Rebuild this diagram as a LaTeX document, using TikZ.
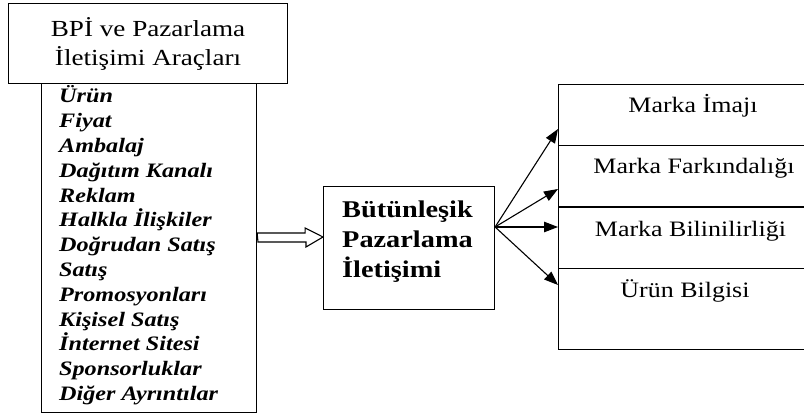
\documentclass[tikz,border=0pt]{standalone}
\usepackage{fontspec}
\setmainfont{Liberation Serif}[FakeStretch=1.18]
\usetikzlibrary{arrows.meta,calc}

\tikzset{
  frame/.style={draw=black, line width=1.1pt, fill=white, inner sep=0pt},
  toolitem/.style={anchor=base west, inner sep=0pt, font=\fontsize{20.5}{24}\selectfont\bfseries\itshape},
  effect/.style={anchor=base, inner sep=0pt, font=\fontsize{22}{26}\selectfont},
  link/.style={line width=1.1pt, -{Triangle[length=14pt,width=10.5pt]}},
  hollow/.style={draw=black, line width=1.1pt, fill=white, line join=miter}
}

\begin{document}
\begin{tikzpicture}[x=1pt, y=-1pt]
  \useasboundingbox (0,0) rectangle (804,414);

  % tools list and its heading
  \node[frame, minimum width=215, minimum height=329, anchor=north west] (list) at (41,83) {};
  \node[frame, minimum width=279, minimum height=80, anchor=north west,
        align=center, font=\fontsize{23}{29}\selectfont] (head) at (8,3)
        {BPİ ve Pazarlama\\İletişimi Araçları};

  \foreach \t [count=\i from 0] in {Ürün, Fiyat, Ambalaj, Dağıtım Kanalı, Reklam,
      Halkla İlişkiler, Doğrudan Satış, Satış, Promosyonları, Kişisel Satış,
      İnternet Sitesi, Sponsorluklar, Diğer Ayrıntılar}
    \node[toolitem] (item\i) at (59, 103+24.8*\i) {\t};

  % integrated marketing communication
  \node[frame, minimum width=171, minimum height=123, anchor=north west] (ipi) at (323,186) {};
  \node[anchor=base west, inner sep=0pt, font=\fontsize{24}{30}\selectfont\bfseries] (ipitext) at (342,218) {Bütünleşik};
  \node[anchor=base west, inner sep=0pt, font=\fontsize{24}{30}\selectfont\bfseries] (ipitext2) at (342,248) {Pazarlama};
  \node[anchor=base west, inner sep=0pt, font=\fontsize{24}{30}\selectfont\bfseries] (ipitext3) at (342,278) {İletişimi};

  % outcome boxes (open to the right)
  \node[frame, minimum width=250, minimum height=61, anchor=north west] (r1) at (558,84) {};
  \node[frame, minimum width=250, minimum height=61, anchor=north west] (r2) at (558,145) {};
  \node[frame, minimum width=250, minimum height=62, anchor=north west] (r3) at (558,206) {};
  \node[frame, minimum width=250, minimum height=81, anchor=north west] (r4) at (558,268) {};
  \draw[line width=1.8pt] (r2.south west) -- (r2.south east);

  \node[effect] (t1) at (693,113) {Marka İmajı};
  \node[effect] (t2) at (694,174) {Marka Farkındalığı};
  \node[effect] (t3) at (690.5,237) {Marka Bilinilirliği};
  \node[effect] (t4) at (685,298) {Ürün Bilgisi};

  % hollow arrow from the tools to the centre box
  \coordinate (ha) at (list.east |- 0,237);
  \coordinate (hb) at (ipi.west |- 0,237);
  \draw[hollow] (ha) ++(0,-4) -- ++(48,0) -- ++(0,-5) -- (hb)
        -- ++(-17,10) -- ++(0,-5) -- ++(-48,0) -- cycle;

  % arrows to the outcomes
  \coordinate (src) at (ipi.east |- 0,227);
  \draw[link] (src) -- (r1.west |- 0,129);
  \draw[link] (src) -- (r2.west |- 0,189);
  \draw[link] (src) -- (r3.west |- 0,227);
  \draw[link] (src) -- (r4.west |- 0,285);
\end{tikzpicture}
\end{document}
